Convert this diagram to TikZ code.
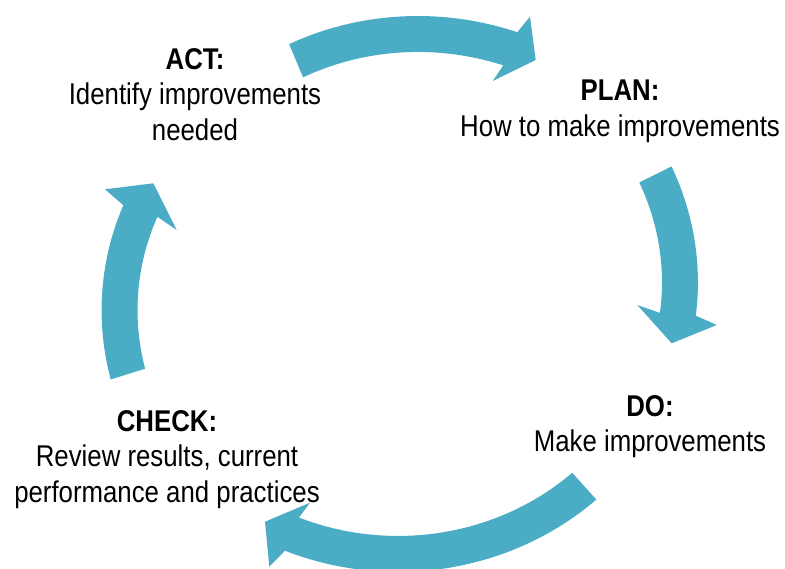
\documentclass[tikz,border=0pt]{standalone}
\usepackage{fontspec}
\setmainfont{Liberation Sans}[FakeStretch=0.86]
\definecolor{cycfill}{RGB}{75,172,198}
\newcommand\cyclearrow[7]{%
  \fill[cyc] plot[domain=#1:#2,samples=60,variable=\t]
    ({400+((#3+(#4-#3)*(\t-#1)/(#2-#1))*279+18)*cos(\t)},
     {294+((#3+(#4-#3)*(\t-#1)/(#2-#1))*262+18)*sin(\t)})
    -- (#5) -- (#6) -- (#7)
    -- plot[domain=#2:#1,samples=60,variable=\t]
    ({400+((#3+(#4-#3)*(\t-#1)/(#2-#1))*279-18)*cos(\t)},
     {294+((#3+(#4-#3)*(\t-#1)/(#2-#1))*262-18)*sin(\t)})
    -- cycle;}
\begin{document}
\begin{tikzpicture}[x=0.75pt,y=-0.75pt,
  cyc/.style={fill=cycfill,draw=none},
  lbl/.style={anchor=north,inner sep=0pt,align=center,text=black,
    font=\fontsize{22.5}{26.8}\selectfont}]
\useasboundingbox (0,0) rectangle (785,568);
% top arrow (ACT -> PLAN)
\cyclearrow{247.3}{292.9}{0.965}{1.016}{530,16.7}{535.7,60}{492.7,81}
% right arrow (PLAN -> DO)
\cyclearrow{333.5}{364.45}{1.023}{0.999}{716.7,325}{671.7,343.3}{637.3,305}
% bottom arrow (DO -> CHECK)
\cyclearrow{48.0}{112.9}{0.987}{0.995}{269.3,566.7}{265,521.7}{310,502.7}
% left arrow (CHECK -> ACT)
\cyclearrow{162.6}{198.8}{1.022}{0.983}{105,189.3}{153.3,183.3}{176.7,230}
% labels
\node[lbl] (act) at (195,48) {\textbf{ACT:}\\Identify improvements\\needed};
\node[lbl] (plan) at (620,80) {\textbf{PLAN:}\\How to make improvements};
\node[lbl] (do) at (650,395) {\textbf{DO:}\\Make improvements};
\node[lbl] (check) at (167,410) {\textbf{CHECK:}\\Review results, current\\performance and practices};
\end{tikzpicture}
\end{document}
